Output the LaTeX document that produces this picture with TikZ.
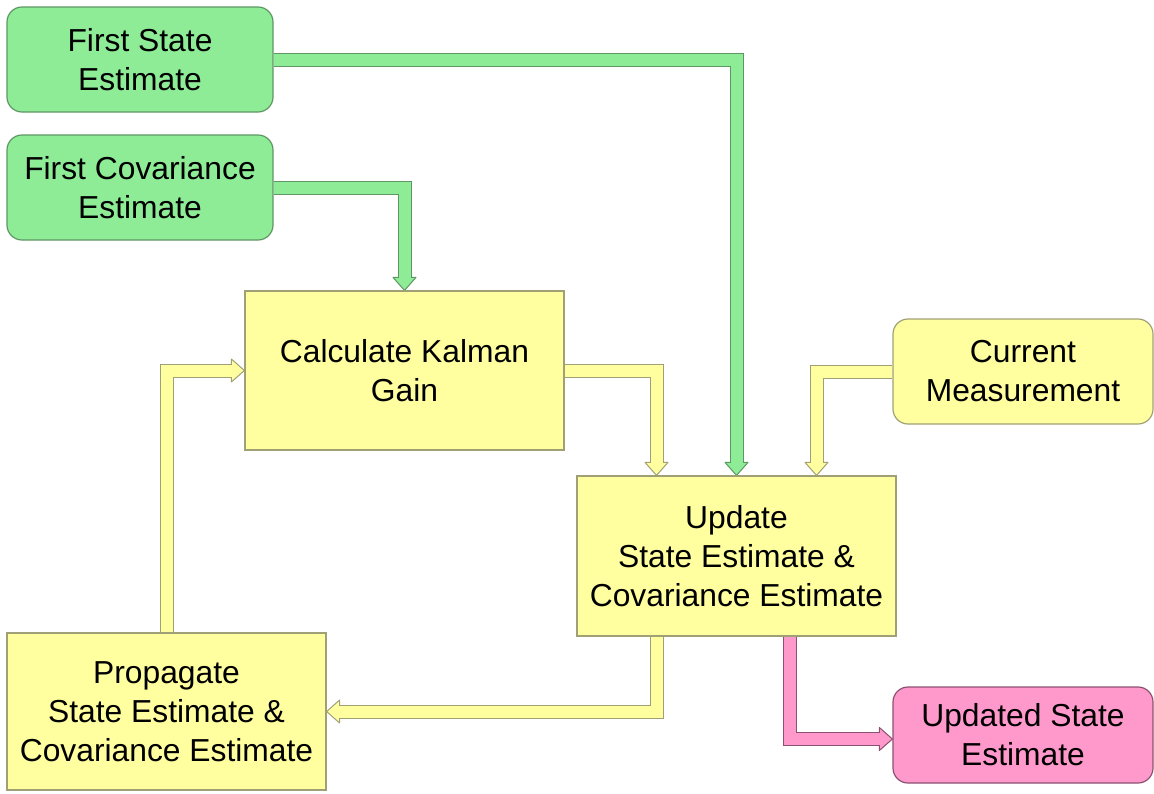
\documentclass[tikz,border=0pt]{standalone}
\usepackage{fontspec}
\setmainfont{Liberation Sans}
\usetikzlibrary{backgrounds}
\begin{document}
\definecolor{gfill}{RGB}{142,236,151}
\definecolor{gline}{RGB}{94,150,100}
\definecolor{yfill}{RGB}{255,255,160}
\definecolor{yline}{RGB}{160,160,118}
\definecolor{pfill}{RGB}{255,153,204}
\definecolor{pline}{RGB}{140,80,112}
\begin{tikzpicture}[x=1pt,y=-1pt,
  box/.style={draw=#1line, fill=#1fill, line width=1.2pt, inner sep=0pt,
    align=center, font=\fontsize{31.8}{39}\selectfont},
  roundbox/.style={box=#1, rounded corners=15pt},
  shaftout/.style={draw=#1line, line width=14pt, line join=miter, shorten >=12pt},
  shaftin/.style={draw=#1fill, line width=12pt, line join=miter, shorten >=11pt},
  ahead/.pic={\path[pic actions] (0,0) -- (-13,11.5) -- (-13,-11.5) -- cycle;},
  headstyle/.style={draw=#1line, fill=#1fill, line width=1pt, line join=round},
]
\useasboundingbox (0,0) rectangle (1154,793);

% boxes
\path
  (140,59.5)    node[roundbox=g, minimum width=266pt, minimum height=105pt] (fse) {First State\\Estimate}
  (140,187.5)   node[roundbox=g, minimum width=266pt, minimum height=105pt] (fce) {First Covariance\\Estimate}
  (404.5,370.5) node[box=y, minimum width=319pt, minimum height=159pt] (kal) {Calculate Kalman\\Gain}
  (1023,371.5)  node[roundbox=y, minimum width=260pt, minimum height=105pt] (cm) {Current\\Measurement}
  (736.5,556)   node[box=y, minimum width=319pt, minimum height=160pt] (upd) {Update\\State Estimate \&\\Covariance Estimate}
  (166.5,711.5) node[box=y, minimum width=319pt, minimum height=157pt] (prop) {Propagate\\State Estimate \&\\Covariance Estimate}
  (1023,735)    node[roundbox=p, minimum width=260pt, minimum height=96pt] (uds) {Updated State\\Estimate};

% block-arrow connectors behind the boxes: outline stroke, head, then fill stroke
\begin{pgfonlayer}{background}
  % green
  \draw[shaftout=g] (fse.east) -| (upd.north);
  \pic[headstyle=g, rotate=-90] at (upd.north) {ahead};
  \draw[shaftin=g] (fse.east) -| (upd.north);

  \draw[shaftout=g] (fce.east) -| (kal.north);
  \pic[headstyle=g, rotate=-90] at (kal.north) {ahead};
  \draw[shaftin=g] (fce.east) -| (kal.north);

  % yellow
  \draw[shaftout=y] (kal.east) -| ([xshift=-80pt]upd.north);
  \pic[headstyle=y, rotate=-90] at ([xshift=-80pt]upd.north) {ahead};
  \draw[shaftin=y] (kal.east) -| ([xshift=-80pt]upd.north);

  \draw[shaftout=y] (cm.west) -| ([xshift=80pt]upd.north);
  \pic[headstyle=y, rotate=-90] at ([xshift=80pt]upd.north) {ahead};
  \draw[shaftin=y] (cm.west) -| ([xshift=80pt]upd.north);

  \draw[shaftout=y] ([xshift=-80pt]upd.south) |- (prop.east);
  \pic[headstyle=y, rotate=180] at (prop.east) {ahead};
  \draw[shaftin=y] ([xshift=-80pt]upd.south) |- (prop.east);

  \draw[shaftout=y] (prop.north) |- (kal.west);
  \pic[headstyle=y] at (kal.west) {ahead};
  \draw[shaftin=y] (prop.north) |- (kal.west);

  % pink
  \draw[shaftout=p] ([xshift=53pt]upd.south) |- ([yshift=-4pt]uds.west);
  \pic[headstyle=p] at ([yshift=-4pt]uds.west) {ahead};
  \draw[shaftin=p] ([xshift=53pt]upd.south) |- ([yshift=-4pt]uds.west);
\end{pgfonlayer}
\end{tikzpicture}
\end{document}
